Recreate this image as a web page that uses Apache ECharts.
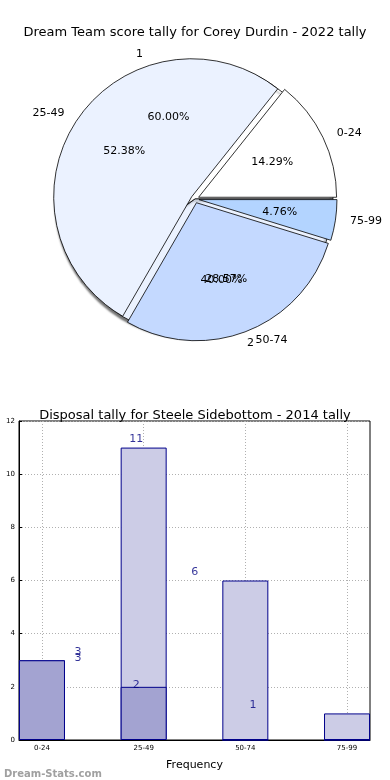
<!DOCTYPE html>
<html>
<head>
<meta charset="utf-8">
<script src="https://cdn.jsdelivr.net/npm/echarts@6/dist/echarts.min.js"></script>
<style>
html,body{margin:0;padding:0;background:#fff;}
#c{width:390px;height:780px;}
</style>
</head>
<body>
<div id="c"></div>
<script>
// ---- data ----
const pieTitle = 'Dream Team score tally for Corey Durdin - 2022 tally';
const pieCategories = ['0-24', '25-49', '50-74', '75-99'];
const pieValues = [3, 11, 6, 1];
const pie2Categories = ['1', '2'];
const pie2Values = [3, 2];

const barTitle = 'Disposal tally for Steele Sidebottom - 2014 tally';
const barCategories = ['0-24', '25-49', '50-74', '75-99'];
const barValuesA = [3, 11, 6, 1];
const barValuesB = [3, 2, 0, 0];
const yTicks = [0, 2, 4, 6, 8, 10, 12];

// ---- styles ----
const FONT = 'DejaVu Sans';
const pieColors = ['#ffffff', '#ebf2ff', '#c4d9ff', '#b3d4ff'];
const pie2Colors = ['#ffffff', '#ebf2ff'];
const R = 138;
const C = [195, 199];

const chart = echarts.init(document.getElementById('c'), null, {renderer: 'canvas'});

function pct(p) { return p.percent.toFixed(2) + '%'; }

const pie1Data = pieCategories.map((n, i) => ({name: n, value: pieValues[i], selected: true,
  itemStyle: {color: pieColors[i]}}));
const pie2Data = pie2Categories.map((n, i) => ({name: n, value: pie2Values[i],
  itemStyle: {color: pie2Colors[i]}}));
const plain = (arr, tag) => arr.map((v, i) => ({name: tag + i, value: v}));

const baseLabelPie = {
  type: 'pie', center: C, startAngle: 0, clockwise: false, silent: true,
  avoidLabelOverlap: false, emphasis: {disabled: true}, animation: false,
  labelLayout: {hideOverlap: false},
  itemStyle: {color: 'rgba(0,0,0,0)', borderWidth: 0}, z: 5
};

// label x positions (in axis units) as drawn in the original
const labX = (i) => 0.354 + 0.574 * i;

const option = {
  animation: false,
  backgroundColor: '#fff',
  title: [
    {text: pieTitle, left: 'center', top: 21, textStyle: {fontFamily: FONT, fontSize: 13, fontWeight: 'normal', color: '#000'}},
    {text: barTitle, left: 'center', top: 404, textStyle: {fontFamily: FONT, fontSize: 13, fontWeight: 'normal', color: '#000'}},
    {text: 'Dream-Stats.com', left: -1, top: 764, textStyle: {fontFamily: FONT, fontSize: 10, fontWeight: 'bold', color: '#a0a0a0'}}
  ],
  grid: {left: 19, right: 20, top: 421, bottom: 40, show: true, borderColor: '#000', borderWidth: 1},
  xAxis: {
    type: 'value', min: -0.226, max: 3.226,
    name: 'Frequency', nameLocation: 'middle', nameGap: 20,
    nameTextStyle: {fontFamily: FONT, fontSize: 11, color: '#000'},
    axisLine: {show: true, onZero: false, lineStyle: {color: '#000'}},
    axisTick: {show: true, inside: true, length: 3, customValues: [0, 1, 2, 3], lineStyle: {color: '#000'}},
    axisLabel: {customValues: [0, 1, 2, 3], formatter: (v) => barCategories[Math.round(v)] || '', fontFamily: FONT, fontSize: 7, color: '#000', margin: 5},
    splitLine: {show: true, lineStyle: {color: '#b0b0b0', type: [1, 2], width: 1}}
  },
  yAxis: {
    type: 'value', min: yTicks[0], max: yTicks[yTicks.length - 1], interval: 2,
    axisLine: {show: true, onZero: false, lineStyle: {color: '#000'}},
    axisTick: {show: true, inside: true, length: 3, lineStyle: {color: '#000'}},
    axisLabel: {fontFamily: FONT, fontSize: 7, color: '#000', margin: 4},
    splitLine: {show: true, lineStyle: {color: '#b0b0b0', type: [1, 2], width: 1}}
  },
  series: [
    // pie 2 (underneath, with shadow)
    {type: 'pie', center: C, radius: R, startAngle: 0, clockwise: false, silent: true,
     animation: false, emphasis: {disabled: true}, label: {show: false}, labelLine: {show: false},
     itemStyle: {borderColor: '#000', borderWidth: 0.8, shadowColor: 'rgba(0,0,0,0.55)', shadowBlur: 2, shadowOffsetX: -2, shadowOffsetY: 2},
     data: pie2Data, z: 1},
    // pie 1 (on top, exploded)
    {type: 'pie', center: C, radius: R, startAngle: 0, clockwise: false, silent: true,
     selectedMode: 'multiple', selectedOffset: 4,
     animation: false, emphasis: {disabled: true}, select: {itemStyle: {borderColor: '#000', borderWidth: 0.8}},
     label: {show: false}, labelLine: {show: false},
     itemStyle: {borderColor: '#000', borderWidth: 0.8},
     data: pie1Data, z: 2},
    // percent labels pie 2
    Object.assign({}, baseLabelPie, {radius: [0, R * 1.2], data: plain(pie2Values, 'b'),
      label: {show: true, position: 'inside', formatter: pct, fontFamily: FONT, fontSize: 11, color: '#000'}, labelLine: {show: false}}),
    // percent labels pie 1
    Object.assign({}, baseLabelPie, {radius: [0, R * 1.2], data: plain(pieValues, 'a'), z: 6,
      label: {show: true, position: 'inside', formatter: pct, fontFamily: FONT, fontSize: 11, color: '#000'}, labelLine: {show: false}}),
    // name labels pie 2
    Object.assign({}, baseLabelPie, {radius: R, data: pie2Categories.map((n, i) => ({name: n, value: pie2Values[i]})),
      label: {show: true, position: 'outside', formatter: '{b}', fontFamily: FONT, fontSize: 11, color: '#000'},
      labelLine: {show: false, length: R * 0.1, length2: 0}}),
    // name labels pie 1
    Object.assign({}, baseLabelPie, {radius: R, data: pieCategories.map((n, i) => ({name: n, value: pieValues[i]})),
      label: {show: true, position: 'outside', formatter: '{b}', fontFamily: FONT, fontSize: 11, color: '#000'},
      labelLine: {show: false, length: R * 0.1, length2: 0}}),
    // bars
    {type: 'bar', barWidth: 46, barGap: '-100%', silent: true,
     itemStyle: {color: '#ccccE6', borderColor: '#00008b', borderWidth: 1},
     data: barValuesA.map((v, i) => [i, v]), z: 2},
    {type: 'bar', barWidth: 46, barGap: '-100%', silent: true,
     itemStyle: {color: '#a3a3d1', borderColor: '#00008b', borderWidth: 1},
     data: barValuesB.map((v, i) => [i, v]), z: 3},
    // value labels (placed as in the original)
    {type: 'scatter', symbolSize: 0, silent: true, z: 6,
     data: barValuesA.map((v, i) => ({value: [labX(i), v + 0.3], label: {formatter: String(v)}})),
     label: {show: true, position: 'inside', fontFamily: FONT, fontSize: 11, color: '#000080'}},
    {type: 'scatter', symbolSize: 0, silent: true, z: 6,
     data: barValuesB.filter(v => v > 0).map((v, i) => ({value: [labX(i), v + 0.08], label: {formatter: String(v)}})),
     label: {show: true, position: 'inside', fontFamily: FONT, fontSize: 11, color: '#000080'}}
  ]
};
chart.setOption(option);
</script>
</body>
</html>
